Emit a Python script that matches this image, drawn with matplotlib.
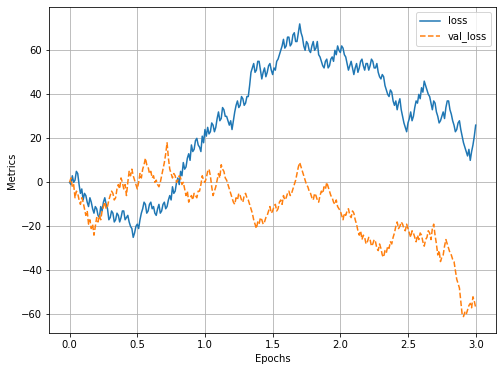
import numpy as np
import matplotlib
matplotlib.use("Agg")
import matplotlib.pyplot as plt

# 学習曲線の値 (0.01 epoch ごとに読み取り, 1行 = 0.1 epoch)
loss = [0, -1, 3, 0, 1, 5, 4, -1, -5, -3,
        -8, -5, -6, -9, -11, -7, -9, -12, -14, -11,
        -12, -15, -16, -11, -13, -9, -7, -10, -12, -17,
        -16, -13, -14, -18, -17, -14, -15, -18, -16, -13,
        -13, -17, -16, -15, -18, -20, -21, -25, -23, -20,
        -19, -21, -17, -14, -12, -9, -10, -14, -13, -10,
        -9, -12, -11, -14, -15, -12, -10, -14, -13, -10,
        -9, -12, -11, -8, -6, -8, -2, -5, -4, 0,
        2, -1, 5, 3, 9, 6, 7, 11, 13, 10,
        17, 14, 15, 19, 20, 17, 16, 14, 21, 18,
        24, 21, 25, 22, 23, 27, 26, 23, 25, 29,
        32, 28, 29, 34, 33, 30, 30, 28, 26, 28,
        24, 28, 32, 35, 37, 34, 35, 39, 38, 35,
        36, 39, 39, 44, 50, 52, 54, 50, 51, 55,
        55, 51, 47, 50, 52, 48, 50, 53, 54, 51,
        49, 52, 51, 55, 56, 58, 60, 62, 65, 61,
        62, 66, 66, 62, 63, 67, 68, 64, 64, 68,
        72, 68, 66, 62, 60, 64, 63, 60, 59, 62,
        64, 60, 61, 64, 58, 57, 55, 53, 52, 55,
        56, 52, 53, 56, 57, 55, 60, 58, 62, 60,
        59, 62, 61, 58, 57, 54, 51, 53, 55, 52,
        49, 52, 54, 50, 52, 55, 56, 53, 51, 54,
        54, 51, 53, 56, 55, 52, 52, 54, 50, 48,
        47, 49, 48, 44, 42, 40, 39, 42, 41, 37,
        35, 37, 33, 36, 38, 33, 30, 27, 25, 23,
        27, 29, 32, 28, 30, 34, 37, 36, 40, 38,
        43, 41, 46, 44, 42, 40, 39, 36, 33, 37,
        36, 32, 30, 27, 28, 30, 32, 29, 34, 37,
        37, 33, 31, 28, 26, 23, 24, 27, 28, 24,
        21, 18, 16, 14, 12, 15, 10, 14, 17, 21,
        26]

val_loss = [0, 2, -2, -1, -7, -4, -5, -8, -10, -7,
            -9, -12, -15, -13, -19, -17, -21, -19, -24, -20,
            -16, -18, -15, -17, -13, -11, -9, -12, -11, -8,
            -6, -4, -5, -8, -7, -3, -1, -3, 2, 0,
            -3, -1, -6, 0, 5, 3, 6, 3, 1, -1,
            -3, 0, 4, 2, 6, 8, 11, 8, 7, 4,
            5, 2, 3, 0, 1, -1, -2, 0, 3, 6,
            9, 13, 18, 11, 6, 4, 2, 4, 3, 0,
            1, 3, 2, -1, 0, -3, -6, -4, -9, -7,
            -6, -8, -5, -6, -7, -4, -4, -1, 3, 1,
            0, 2, 5, 6, 3, -2, -6, -4, -2, 1,
            4, 2, 8, 6, 5, 2, 1, -1, -3, -5,
            -7, -9, -10, -7, -8, -5, -6, -8, -9, -6,
            -5, -7, -8, -10, -12, -14, -17, -19, -21, -18,
            -19, -16, -17, -19, -18, -16, -15, -13, -11, -14,
            -13, -11, -10, -13, -12, -9, -8, -10, -6, -8,
            -7, -5, -4, -6, -5, -3, -1, 1, 4, 7,
            9, 7, 5, 3, 1, -1, -2, -4, -5, -7,
            -8, -5, -6, -8, -9, -6, -4, -5, -2, -3,
            0, -2, -4, -6, -7, -9, -10, -8, -11, -12,
            -13, -15, -17, -14, -15, -13, -12, -15, -16, -13,
            -14, -17, -19, -22, -24, -22, -26, -24, -25, -28,
            -27, -25, -26, -29, -28, -26, -27, -30, -31, -28,
            -30, -33, -34, -31, -32, -29, -30, -27, -28, -25,
            -23, -20, -18, -21, -20, -18, -19, -21, -22, -19,
            -21, -23, -25, -22, -23, -25, -27, -24, -26, -23,
            -24, -27, -29, -26, -25, -22, -23, -26, -21, -19,
            -24, -28, -33, -31, -36, -34, -33, -29, -26, -28,
            -30, -32, -33, -35, -36, -40, -44, -46, -48, -54,
            -60, -61, -59, -60, -58, -56, -55, -57, -52, -54,
            -57]

epochs = np.linspace(0, 3, len(loss))

fig = plt.figure(figsize=(502 / 72, 371 / 72), dpi=72)
ax = fig.add_axes([0.0982, 0.1016, 0.8898, 0.8784])

ax.plot(epochs, loss, label="loss")
ax.plot(epochs, val_loss, "--", label="val_loss")

ax.set_xlim(-0.15, 3.15)
ax.set_ylim(-68.6, 79.5)
ax.set_xlabel("Epochs")
ax.set_ylabel("Metrics")
ax.grid(True)
ax.legend(loc="upper right")

fig.savefig("out.png", dpi=72)
